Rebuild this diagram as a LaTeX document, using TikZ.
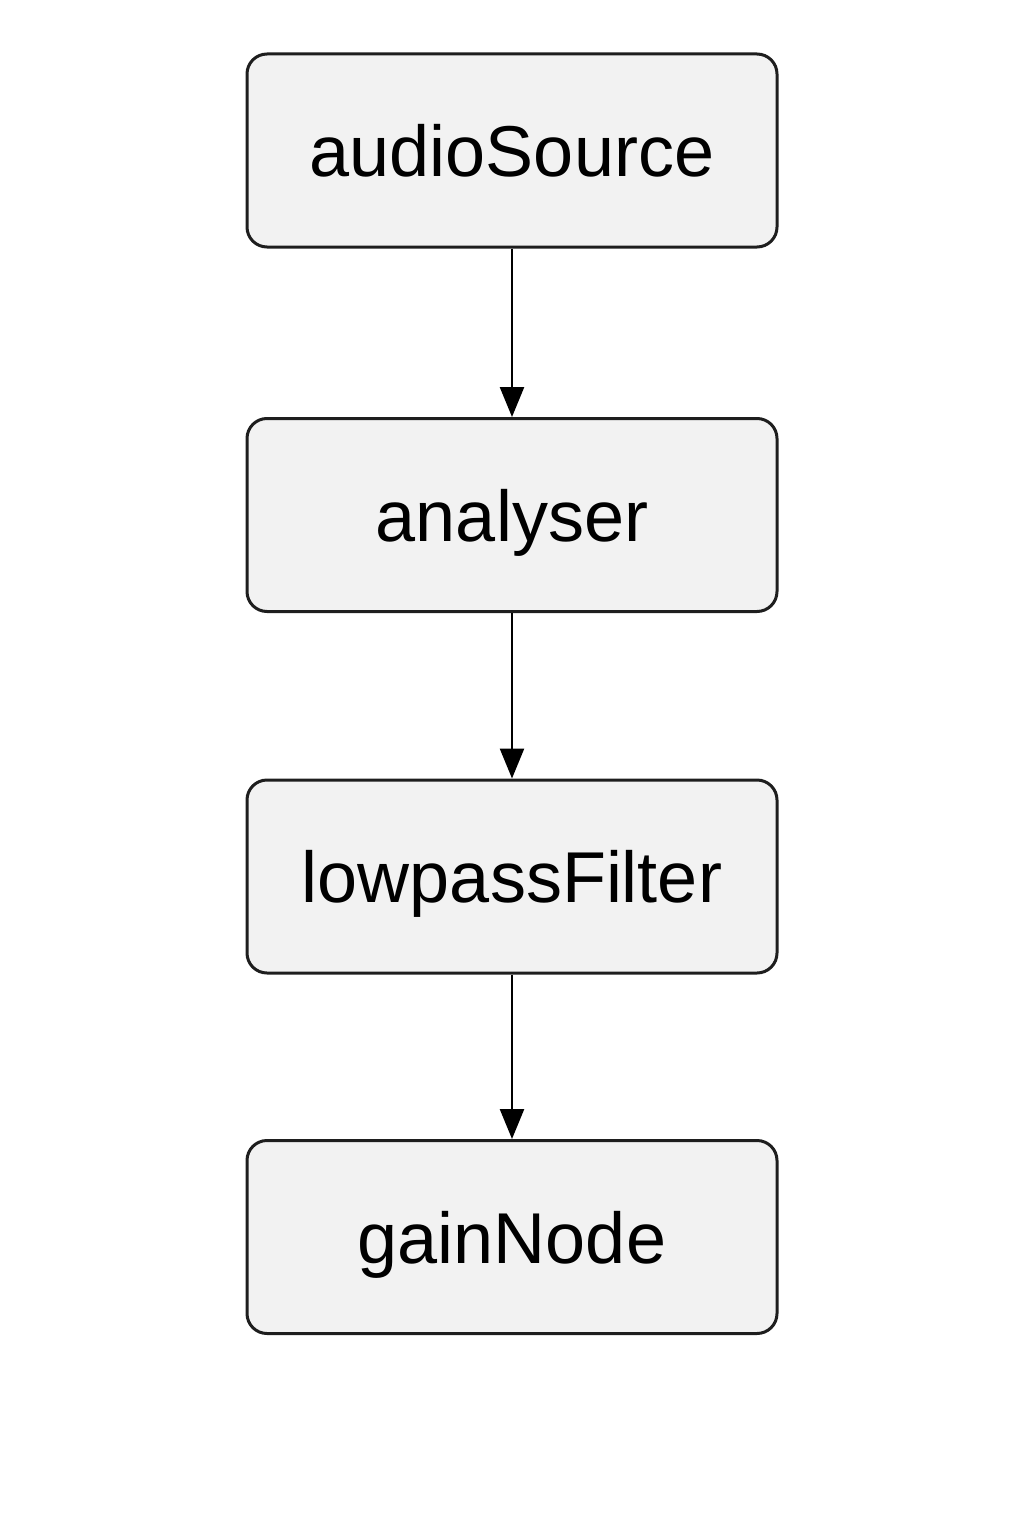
\documentclass[tikz,border=0pt]{standalone}
\usepackage{fontspec}
\setmainfont{Liberation Sans}
\usetikzlibrary{arrows.meta}
\definecolor{boxfill}{HTML}{F2F2F2}
\definecolor{boxline}{HTML}{1E1E1E}
\tikzset{
  flowbox/.style={draw=boxline, line width=3pt, fill=boxfill, rounded corners=20pt,
    minimum width=530pt, minimum height=193pt, inner sep=0pt,
    font=\fontsize{72}{80}\selectfont, text height=52pt, text depth=0pt},
  flowarrow/.style={line width=2.5pt, draw=black, -{Triangle[length=30pt,width=24pt]}}
}
\begin{document}
\begin{tikzpicture}[x=1pt,y=-1pt]
\useasboundingbox (0,0) rectangle (1024,1536);
\node[flowbox] (src) at (512,150.5) {audioSource};
\node[flowbox] (ana) at (512,515) {analyser};
\node[flowbox] (lpf) at (512,876.5) {lowpassFilter};
\node[flowbox] (gain) at (512,1237) {gainNode};
\draw[flowarrow] (src) -- (ana);
\draw[flowarrow] (ana) -- (lpf);
\draw[flowarrow] (lpf) -- (gain);
\end{tikzpicture}
\end{document}
